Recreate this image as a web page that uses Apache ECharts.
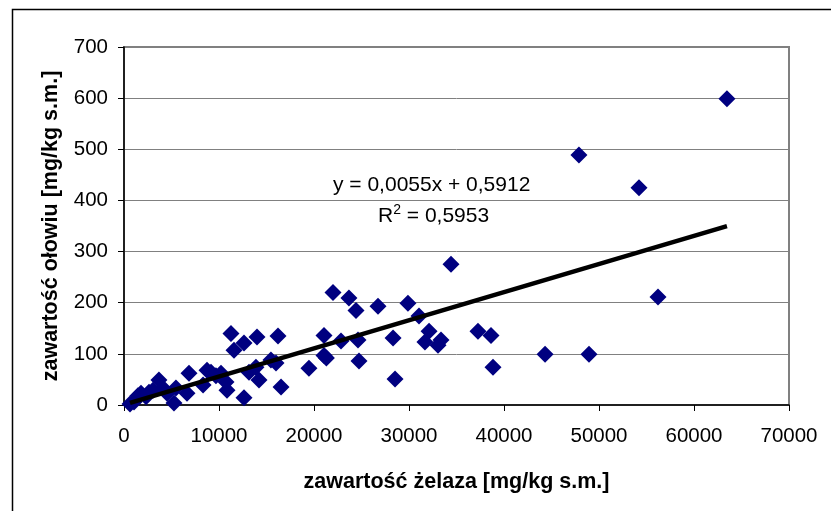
<!DOCTYPE html>
<html>
<head>
<meta charset="utf-8">
<script src="https://cdn.jsdelivr.net/npm/echarts@6/dist/echarts.min.js"></script>
<style>
html,body{margin:0;padding:0;background:#fff;}
#chart{width:831px;height:511px;}
</style>
</head>
<body>
<div id="chart"></div>
<script>
// Iron content [mg/kg d.m.]
const ironValues = [630, 1050, 1470, 1790, 2320, 2630, 3050, 3680, 4100, 4530,
  5260, 5470, 6840, 6630, 8320, 8740, 9160, 9680, 10210, 10740,
  10840, 11260, 11580, 12630, 12630, 13160, 13890, 14000, 14210, 15470,
  16000, 16210, 16530, 19470, 21050, 21050, 21300, 22000, 22840, 23680,
  24420, 24630, 24740, 26740, 28320, 28530, 29890, 31050, 31680, 32110,
  33050, 33370, 34420, 37260, 38630, 38840, 44320, 48950, 47890, 54210,
  56210, 63470];
// Lead content [mg/kg d.m.]
const leadValues = [2, 6, 18, 23, 16, 25, 29, 49, 33, 23,
  4, 33, 62, 23, 39, 68, 64, 57, 62, 45,
  29, 140, 107, 121, 14, 64, 74, 133, 49, 88,
  82, 135, 35, 72, 97, 136, 92, 220, 125, 209,
  185, 127, 86, 193, 131, 51, 199, 174, 123, 144,
  117, 127, 275, 144, 136, 74, 99, 99, 489, 425,
  211, 599];
const xTicks = [0, 10000, 20000, 30000, 40000, 50000, 60000, 70000];
const yTicks = [0, 100, 200, 300, 400, 500, 600, 700];
const slope = 0.0055;
const intercept = 0.5912;
const r2Text = '0,5953';

const points = ironValues.map((x, i) => [x, leadValues[i]]);
const xMin = Math.min(...ironValues), xMax = Math.max(...ironValues);
const trend = [[xMin, slope * xMin + intercept], [xMax, slope * xMax + intercept]];
const fmt = v => v.toString().replace('.', ',');

const chart = echarts.init(document.getElementById('chart'), null, {renderer: 'canvas'});
const font = '"Liberation Sans", Arial, sans-serif';
chart.setOption({
  animation: false,
  backgroundColor: '#fff',
  grid: {left: 124, right: 42, top: 47, bottom: 106, show: true, borderColor: '#808080', borderWidth: 2, backgroundColor: 'transparent'},
  xAxis: {
    type: 'value', min: xTicks[0], max: xTicks[xTicks.length - 1], interval: 10000,
    name: 'zawartość żelaza [mg/kg s.m.]', nameLocation: 'middle', nameGap: 66, nameMoveOverlap: false,
    nameTextStyle: {fontFamily: font, fontWeight: 'bold', fontSize: 21.5, color: '#000'},
    axisLine: {show: true, onZero: false, lineStyle: {color: '#000', width: 1.5}},
    axisTick: {show: true, length: 6, lineStyle: {color: '#000', width: 1}},
    axisLabel: {fontFamily: font, fontSize: 20.5, color: '#000', margin: 21, formatter: v => String(v)},
    splitLine: {show: false}
  },
  yAxis: {
    type: 'value', min: yTicks[0], max: yTicks[yTicks.length - 1], interval: 100,
    name: 'zawartość ołowiu [mg/kg s.m.]', nameLocation: 'middle', nameGap: 62, nameMoveOverlap: false,
    nameTextStyle: {fontFamily: font, fontWeight: 'bold', fontSize: 21.5, color: '#000'},
    axisLine: {show: true, onZero: false, lineStyle: {color: '#000', width: 1.5}},
    axisTick: {show: true, length: 6, lineStyle: {color: '#000', width: 1}},
    axisLabel: {fontFamily: font, fontSize: 20.5, color: '#000', margin: 16, formatter: v => String(v)},
    splitLine: {show: true, lineStyle: {color: '#808080', width: 1}}
  },
  series: [
    {
      type: 'scatter', data: points, symbol: 'diamond', symbolSize: 17,
      itemStyle: {color: '#000080', opacity: 1}, z: 2
    },
    {
      type: 'line', data: trend, showSymbol: false, symbol: 'none',
      lineStyle: {color: '#000', width: 4.5}, z: 3, silent: true
    }
  ],
  graphic: [
    {type: 'rect', left: 10, top: 7, shape: {width: 900, height: 700}, style: {fill: 'none', stroke: '#000', lineWidth: 1.5}, silent: true, z: -1},
    {type: 'text', left: 333, top: 175, style: {text: 'y = ' + fmt(slope) + 'x + ' + fmt(intercept), font: '21px ' + font, fill: '#000'}, z: 10},
    {type: 'text', left: 378, top: 203, style: {
      text: 'R{sup|2} = ' + r2Text,
      font: '21px ' + font, fill: '#000',
      rich: {sup: {fontSize: 14, fontFamily: font, verticalAlign: 'top', padding: [0, 0, 12, 0]}}
    }, z: 10}
  ]
});
</script>
</body>
</html>
